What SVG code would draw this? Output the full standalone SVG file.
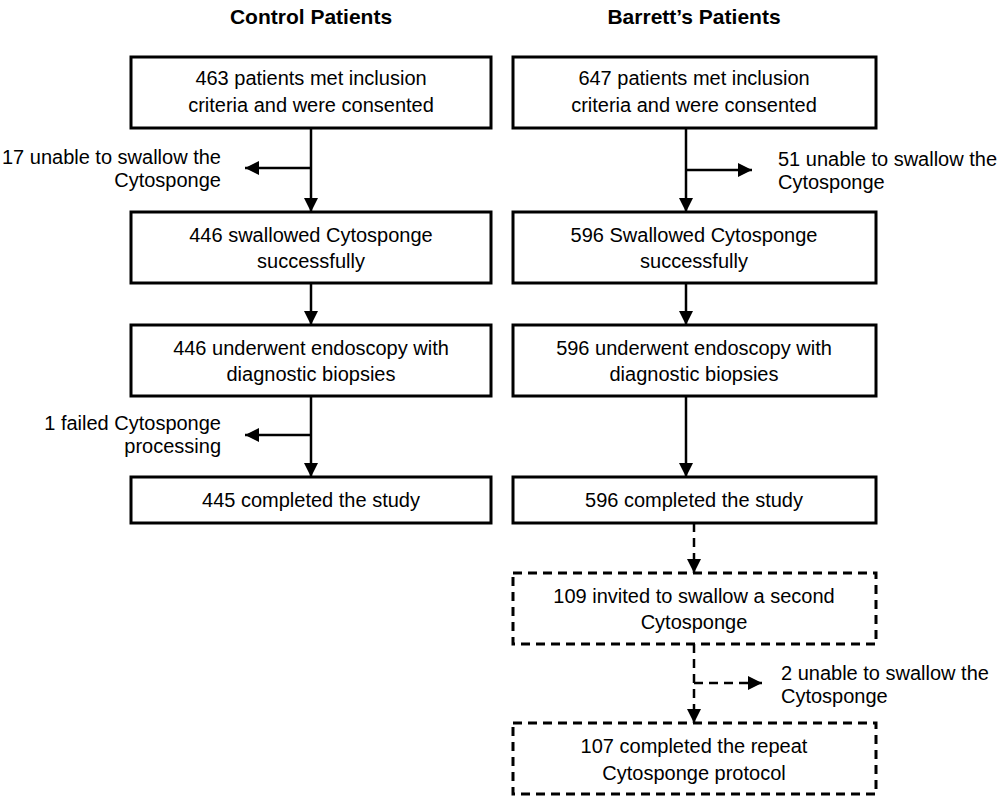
<svg xmlns="http://www.w3.org/2000/svg" width="1000" height="800" viewBox="0 0 1000 800">
<style>
text{font-family:"Liberation Sans",Arial,sans-serif;font-size:20px;fill:#000}
.c{text-anchor:middle}.r{text-anchor:end}
.t{font-weight:bold;font-size:21px;text-anchor:middle}
rect{fill:#fff;stroke:#000;stroke-width:3}
.d{stroke-dasharray:9,6}
line{stroke:#000;stroke-width:2.5}
</style>
<defs><marker id="a" markerWidth="8" markerHeight="8" refX="7" refY="4" orient="auto" markerUnits="userSpaceOnUse" viewBox="0 0 8 8"><path d="M0,0L8,4L0,8Z"/></marker>
<marker id="h" markerWidth="14" markerHeight="14" refX="14" refY="7" orient="auto" markerUnits="userSpaceOnUse" viewBox="0 0 14 14"><path d="M0,0L14,7L0,14Z"/></marker></defs>
<text class="t" x="311" y="24">Control Patients</text>
<text class="t" x="694" y="24">Barrett’s Patients</text>
<g id="connectors">
<line x1="311" y1="128" x2="311" y2="212" marker-end="url(#h)"/>
<line x1="311" y1="168" x2="245" y2="168" marker-end="url(#h)"/>
<line x1="311" y1="283" x2="311" y2="325" marker-end="url(#h)"/>
<line x1="311" y1="396" x2="311" y2="477" marker-end="url(#h)"/>
<line x1="311" y1="435" x2="245" y2="435" marker-end="url(#h)"/>
<line x1="686" y1="128" x2="686" y2="212" marker-end="url(#h)"/>
<line x1="686" y1="170" x2="752" y2="170" marker-end="url(#h)"/>
<line x1="686" y1="283" x2="686" y2="325" marker-end="url(#h)"/>
<line x1="686" y1="396" x2="686" y2="477" marker-end="url(#h)"/>
<line class="d" x1="694" y1="523" x2="694" y2="573" marker-end="url(#h)"/>
<line class="d" x1="694" y1="644" x2="694" y2="723" marker-end="url(#h)"/>
<line class="d" x1="694" y1="683" x2="762" y2="683" marker-end="url(#h)"/>
</g>
<g id="n1"><rect x="131" y="57" width="360" height="71"/><text class="c" x="311" y="85">463 patients met inclusion</text><text class="c" x="311" y="112">criteria and were consented</text></g>
<g id="n2"><rect x="131" y="212" width="360" height="71"/><text class="c" x="311" y="242">446 swallowed Cytosponge</text><text class="c" x="311" y="268">successfully</text></g>
<g id="n3"><rect x="131" y="325" width="360" height="71"/><text class="c" x="311" y="355">446 underwent endoscopy with</text><text class="c" x="311" y="381">diagnostic biopsies</text></g>
<g id="n4"><rect x="131" y="477" width="360" height="46"/><text class="c" x="311" y="507">445 completed the study</text></g>
<g id="s1"><text class="r" x="221" y="164">17 unable to swallow the</text><text class="r" x="221" y="187">Cytosponge</text></g>
<g id="s2"><text class="r" x="221" y="430">1 failed Cytosponge</text><text class="r" x="221" y="453">processing</text></g>
<g id="m1"><rect x="513" y="57" width="363" height="71"/><text class="c" x="694" y="85">647 patients met inclusion</text><text class="c" x="694" y="112">criteria and were consented</text></g>
<g id="m2"><rect x="513" y="212" width="363" height="71"/><text class="c" x="694" y="242">596 Swallowed Cytosponge</text><text class="c" x="694" y="268">successfully</text></g>
<g id="m3"><rect x="513" y="325" width="363" height="71"/><text class="c" x="694" y="355">596 underwent endoscopy with</text><text class="c" x="694" y="381">diagnostic biopsies</text></g>
<g id="m4"><rect x="513" y="477" width="363" height="46"/><text class="c" x="694" y="507">596 completed the study</text></g>
<g id="m5"><rect class="d" x="513" y="573" width="363" height="71"/><text class="c" x="694" y="603">109 invited to swallow a second</text><text class="c" x="694" y="629">Cytosponge</text></g>
<g id="m6"><rect class="d" x="513" y="723" width="363" height="71"/><text class="c" x="694" y="753">107 completed the repeat</text><text class="c" x="694" y="780">Cytosponge protocol</text></g>
<g id="r1"><text x="778" y="166">51 unable to swallow the</text><text x="778" y="189">Cytosponge</text></g>
<g id="r2"><text x="781" y="680">2 unable to swallow the</text><text x="781" y="703">Cytosponge</text></g>
</svg>
